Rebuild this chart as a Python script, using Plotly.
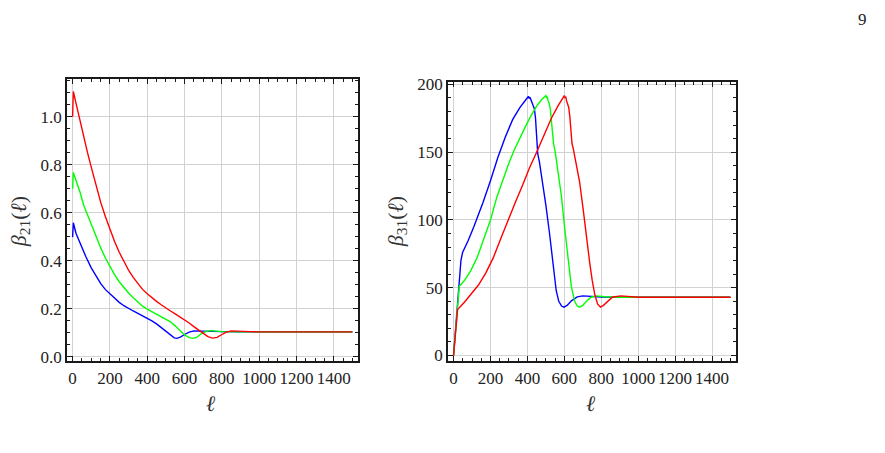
import plotly.graph_objects as go

# ---------------- data ----------------
# Left panel: beta_21(ell)
ell_b21_blue = [0, 4, 18, 36, 54, 72, 100, 125, 150, 175, 200, 225, 250, 275, 300, 325, 350, 375, 400,
                425, 450, 475, 500, 525, 545, 560, 580, 600, 625, 650, 700, 750, 800, 900, 1500]
b21_blue = [0.498, 0.558, 0.514, 0.48, 0.45, 0.415, 0.37, 0.335, 0.305, 0.28, 0.262, 0.243, 0.226, 0.212,
            0.2, 0.19, 0.18, 0.17, 0.16, 0.149, 0.136, 0.12, 0.104, 0.088, 0.078, 0.076, 0.082, 0.092,
            0.102, 0.107, 0.107, 0.105, 0.104, 0.103, 0.103]

ell_b21_green = [0, 4, 20, 40, 60, 80, 100, 125, 150, 175, 200, 225, 250, 275, 300, 325, 350, 375, 400,
                 425, 450, 475, 500, 525, 550, 575, 600, 625, 645, 665, 690, 715, 740, 770, 800, 900, 1500]
b21_green = [0.70, 0.768, 0.73, 0.685, 0.63, 0.59, 0.55, 0.5, 0.455, 0.412, 0.375, 0.342, 0.312, 0.287,
             0.265, 0.245, 0.226, 0.21, 0.198, 0.188, 0.178, 0.168, 0.157, 0.145, 0.128, 0.108, 0.09,
             0.079, 0.076, 0.08, 0.095, 0.105, 0.108, 0.106, 0.104, 0.103, 0.103]

ell_b21_red = [0, 4, 20, 40, 60, 80, 100, 125, 150, 175, 200, 225, 250, 275, 300, 325, 350, 375, 400,
               425, 450, 475, 500, 525, 550, 575, 600, 625, 650, 675, 700, 725, 750, 775, 800, 825, 850,
               875, 900, 950, 1000, 1500]
b21_red = [1.0, 1.105, 1.05, 0.98, 0.91, 0.85, 0.79, 0.715, 0.645, 0.585, 0.53, 0.48, 0.435, 0.395, 0.36,
           0.33, 0.303, 0.28, 0.262, 0.245, 0.23, 0.216, 0.202, 0.19, 0.178, 0.166, 0.153, 0.14, 0.125,
           0.11, 0.095, 0.083, 0.077, 0.08, 0.092, 0.102, 0.107, 0.107, 0.105, 0.104, 0.103, 0.103]

# Right panel: beta_31(ell)
ell_b31_blue = [0, 22, 40, 49, 80, 110, 133, 160, 200, 240, 280, 320, 360, 390, 402, 406, 410, 414, 418,
                422, 427, 432, 438, 444, 450, 456, 465, 480, 500, 520, 540, 556, 570, 585, 598, 615, 640,
                670, 700, 750, 800, 900, 1500]
b31_blue = [0, 36.5, 70, 76, 85, 95, 103, 113, 129, 146, 161, 174, 183, 189, 190.5, 191.2, 189.5, 190.5,
            188.5, 187, 186, 184, 182, 175, 160, 149, 143, 130, 111, 90, 66, 48, 40, 36.5, 35.7, 37,
            40.5, 43.3, 44, 43.6, 43.2, 43, 43]

ell_b31_green = [0, 31, 60, 95, 130, 165, 200, 235, 270, 300, 330, 360, 390, 420, 450, 475, 490, 496, 500,
                 504, 508, 512, 518, 524, 530, 536, 542, 550, 566, 584, 602, 620, 638, 656, 670, 683, 700,
                 720, 745, 775, 820, 900, 1500]
b31_green = [0, 51, 55.5, 63, 73, 86, 100, 117, 131, 142, 152, 161, 169, 177, 184, 188.5, 190.5, 191.2,
             191.8, 190, 191, 188, 186, 182, 174, 165, 156, 151, 137, 118, 94, 70, 51, 40, 36.5, 35.7,
             37, 40, 43, 44, 43.4, 43, 43]

ell_b31_red = [0, 22, 60, 100, 135, 175, 215, 255, 295, 335, 375, 410, 450, 490, 530, 565, 590, 596, 600,
               604, 608, 612, 618, 624, 630, 636, 642, 648, 665, 683, 702, 720, 738, 751, 765, 780, 796,
               812, 830, 860, 905, 950, 1000, 1500]
b31_red = [0, 34, 39.5, 46, 52, 61, 72, 86, 100, 113, 126, 138, 150, 163, 175, 184, 190, 191, 191.8, 190,
           191, 188, 186, 183, 176, 166, 156, 153, 142, 128, 108, 87, 68, 55.6, 45, 38, 35.7, 37, 39.5,
           43, 44, 43.4, 43, 43]

x_ticks = [0, 200, 400, 600, 800, 1000, 1200, 1400]

# ---------------- figure ----------------
W, H = 885, 453


def fx(p):
    return p / W


def fy(p):
    return 1 - p / H


BLUE, GREEN, RED = "#0000ff", "#00ff00", "#ff0000"
LW = 1.4
SERIF = "Liberation Serif"
FRAME = "#1a1a1a"

fig = go.Figure()
for xs, ys, c in [(ell_b21_blue, b21_blue, BLUE), (ell_b21_green, b21_green, GREEN),
                  (ell_b21_red, b21_red, RED)]:
    fig.add_trace(go.Scatter(x=xs, y=ys, mode="lines", line=dict(color=c, width=LW),
                             xaxis="x", yaxis="y", showlegend=False))
for xs, ys, c in [(ell_b31_blue, b31_blue, BLUE), (ell_b31_green, b31_green, GREEN),
                  (ell_b31_red, b31_red, RED)]:
    fig.add_trace(go.Scatter(x=xs, y=ys, mode="lines", line=dict(color=c, width=LW),
                             xaxis="x2", yaxis="y2", showlegend=False))


def axis(**kw):
    d = dict(showline=True, linecolor=FRAME, linewidth=1.8, mirror="ticks",
             ticks="inside", ticklen=5, tickwidth=1, tickcolor=FRAME,
             showgrid=True, gridcolor="#d2d2d2", gridwidth=1, zeroline=False,
             tickfont=dict(family=SERIF, size=17, color="#222222"))
    d.update(kw)
    return d


fig.update_layout(
    width=W, height=H, margin=dict(l=0, r=0, t=0, b=0),
    paper_bgcolor="white", plot_bgcolor="white",
    xaxis=axis(domain=[fx(67), fx(358)], range=[-30, 1530], tickvals=x_ticks,
               minor=dict(ticks="inside", ticklen=3, tickcolor=FRAME, dtick=50, tick0=0, showgrid=False),
               anchor="y"),
    yaxis=axis(domain=[fy(364), fy(74)], range=[-0.02, 1.157], dtick=0.2, tick0=0, tickformat=".1f",
               minor=dict(ticks="inside", ticklen=3, tickcolor=FRAME, dtick=0.05, tick0=0, showgrid=False),
               anchor="x"),
    xaxis2=axis(domain=[fx(448), fx(736)], range=[-30, 1530], tickvals=x_ticks,
                minor=dict(ticks="inside", ticklen=3, tickcolor=FRAME, dtick=50, tick0=0, showgrid=False),
                anchor="y2"),
    yaxis2=axis(domain=[fy(364), fy(77)], range=[-4.3, 201.8], dtick=50, tick0=0,
                minor=dict(ticks="inside", ticklen=3, tickcolor=FRAME, dtick=10, tick0=0, showgrid=False),
                anchor="x2"),
)

ann_font = dict(family=SERIF, size=22, color="#333333")


def label(x, y, text, angle=0, font=ann_font):
    fig.add_annotation(x=fx(x), y=fy(y), xref="paper", yref="paper", textangle=angle,
                       xanchor="center", yanchor="middle", text=text, showarrow=False, font=font)


label(20, 221, "<i>β</i><sub>21</sub>(<i>ℓ</i>)", -90)
label(397, 221, "<i>β</i><sub>31</sub>(<i>ℓ</i>)", -90)
label(211, 407, "<i>ℓ</i>")
label(591, 407, "<i>ℓ</i>")
label(862, 13, "9", font=dict(family=SERIF, size=17, color="#222222"))

fig.write_html("out.html")
